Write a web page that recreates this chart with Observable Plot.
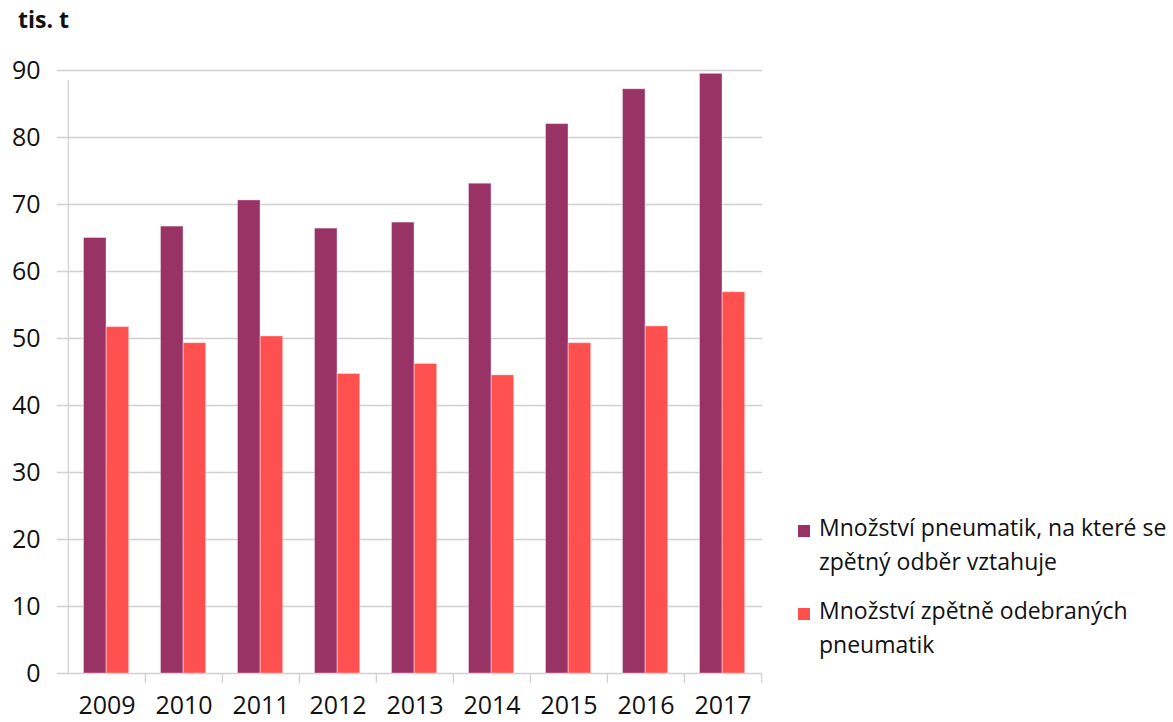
<!DOCTYPE html>
<html>
<head>
<meta charset="utf-8">
<script src="https://cdn.jsdelivr.net/npm/d3@7"></script>
<script src="https://cdn.jsdelivr.net/npm/@observablehq/plot@0.6"></script>
<style>
  html, body { margin: 0; padding: 0; background: #fff; }
  #wrap { position: relative; width: 1173px; height: 722px; font-family: "Open Sans", sans-serif; color: #111; }
  #title { position: absolute; left: 18px; top: 4px; font-size: 23px; font-weight: bold; line-height: 30px; }
  .leg { position: absolute; left: 798px; font-size: 23px; line-height: 34px; white-space: nowrap; }
  .leg .sw { position: absolute; left: 0; top: 15px; width: 12px; height: 12px; }
  .leg .tx { position: absolute; left: 21px; top: 0; }
</style>
</head>
<body>
<div id="wrap">
  <div id="title">tis. t</div>
  <div id="chart"></div>
  <div id="legend"></div>
</div>
<script>
const years = ["2009", "2010", "2011", "2012", "2013", "2014", "2015", "2016", "2017"];
const subjectToTakeBack = [65.0, 66.7, 70.6, 66.4, 67.3, 73.1, 82.0, 87.2, 89.5];
const collectedTyres = [51.7, 49.3, 50.3, 44.7, 46.2, 44.5, 49.3, 51.8, 56.9];
const yTicks = [0, 10, 20, 30, 40, 50, 60, 70, 80, 90];
const seriesNames = [
  ["Množství pneumatik, na které se", "zpětný odběr vztahuje"],
  ["Množství zpětně odebraných", "pneumatik"]
];
const seriesColors = ["#993366", "#FF5050"];

const W = 1173, H = 722, mL = 67, mR = 411, mT = 70, mB = 49;
const bw = (W - mL - mR) / years.length;
const grid = "#d0d0d0";

const dataA = years.map((y, i) => ({year: y, value: subjectToTakeBack[i]}));
const dataB = years.map((y, i) => ({year: y, value: collectedTyres[i]}));

const chart = Plot.plot({
  width: W, height: H,
  marginLeft: mL, marginRight: mR, marginTop: mT, marginBottom: mB,
  style: {fontFamily: "Open Sans, sans-serif", color: "#111", background: "transparent"},
  x: {type: "band", domain: years, padding: 0, axis: null},
  y: {domain: [0, 90], axis: null},
  marks: [
    Plot.ruleY(yTicks, {stroke: grid, strokeWidth: 1.3, insetLeft: -10}),
    Plot.ruleX([years[0]], {dx: -bw / 2, y1: 0, y2: 90, insetBottom: -10, stroke: grid, strokeWidth: 1.3}),
    Plot.ruleX(years.slice(1), {dx: -bw / 2, y1: 0, y2: 0, insetBottom: -10, stroke: grid, strokeWidth: 1.3}),
    Plot.ruleX([years[years.length - 1]], {dx: bw / 2, y1: 0, y2: 0, insetBottom: -10, stroke: grid, strokeWidth: 1.3}),
    Plot.barY(dataA, {x: "year", y: "value", fill: seriesColors[0], insetLeft: 15.5, insetRight: 39, stroke: "#fff", strokeOpacity: 0.35, strokeWidth: 1}),
    Plot.barY(dataB, {x: "year", y: "value", fill: seriesColors[1], insetLeft: 38.2, insetRight: 16.3, stroke: "#fff", strokeOpacity: 0.35, strokeWidth: 1}),
    Plot.axisY({ticks: yTicks, tickSize: 0, tickPadding: 27, fontSize: 25, label: null}),
    Plot.axisX({tickSize: 0, tickPadding: 23, fontSize: 25, label: null})
  ]
});
document.getElementById("chart").appendChild(chart);

const legend = document.getElementById("legend");
const legTops = [510, 593];
seriesNames.forEach((lines, i) => {
  const d = document.createElement("div");
  d.className = "leg";
  d.style.top = legTops[i] + "px";
  const sw = document.createElement("div");
  sw.className = "sw";
  sw.style.background = seriesColors[i];
  const tx = document.createElement("div");
  tx.className = "tx";
  tx.innerHTML = lines.join("<br>");
  d.appendChild(sw);
  d.appendChild(tx);
  legend.appendChild(d);
});
</script>
</body>
</html>
